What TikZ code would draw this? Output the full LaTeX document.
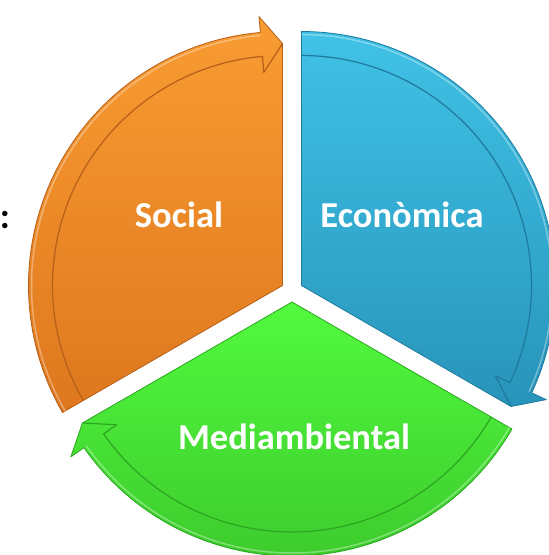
\documentclass[tikz,border=0pt]{standalone}
\usepackage{fontspec}
\setmainfont{Carlito}
\definecolor{socialtop}{HTML}{F99C32}
\definecolor{socialbot}{HTML}{DE771E}
\definecolor{socialline}{HTML}{B5601A}
\definecolor{econtop}{HTML}{40C2E6}
\definecolor{econbot}{HTML}{2894BA}
\definecolor{econline}{HTML}{1E7A9C}
\definecolor{mediatop}{HTML}{52FA3E}
\definecolor{mediabot}{HTML}{3DCC2D}
\definecolor{medialine}{HTML}{2CA521}
% segment: [colour prefix](apex)(free end angle:arrow end angle)
\def\cyclesegment[#1](#2)(#3:#4){%
  \begin{scope}[shift={(#2)}]
    \shade[top color=#1top,bottom color=#1bot] (0,0) -- (#3:254) arc[start angle=#3,end angle=#4+5,radius=254] -- ({#4+5}:270) -- (#4:242) -- cycle;
    \draw[#1line,line width=0.8pt,line join=round] (0,0) -- (#3:254) arc[start angle=#3,end angle=#4+5,radius=254] -- ({#4+5}:270) -- (#4:242) -- cycle;
    \draw[#1line,line width=1.2pt,line join=round] (#3:230) arc[start angle=#3,end angle=#4+5,radius=230] -- ({#4+5}:214) -- (#4:242);
    \draw[white,opacity=0.35,line width=1.5pt] (#3:251) arc[start angle=#3,end angle=#4+5,radius=251];
  \end{scope}}

\begin{document}
\begin{tikzpicture}[x=1pt,y=1pt,
  seglabel/.style={text=white,font=\bfseries\fontsize{36.5}{40}\selectfont,anchor=base,inner sep=0pt}]
	%%%%% START %%%%%
	\useasboundingbox (-292,-264) rectangle (257,291);
	\clip (-292,-264) rectangle (257,291);

	\cyclesegment[social](-9.5,5.5)(210:90);
	\cyclesegment[econ](9.5,5.5)(90:-30);
	\cyclesegment[media](0,-11)(330:210);

	\node[seglabel] (social) at (-113,64) {Social};
	\node[seglabel] (econ) at (110,64) {Econòmica};
	\node[seglabel] (media) at (2,-158) {Mediambiental};

	\node[font=\bfseries\fontsize{36.5}{40}\selectfont,anchor=base,inner sep=0pt] (colon) at (-287,63) {:};
	%%%%% END %%%%%
\end{tikzpicture}
\end{document}
